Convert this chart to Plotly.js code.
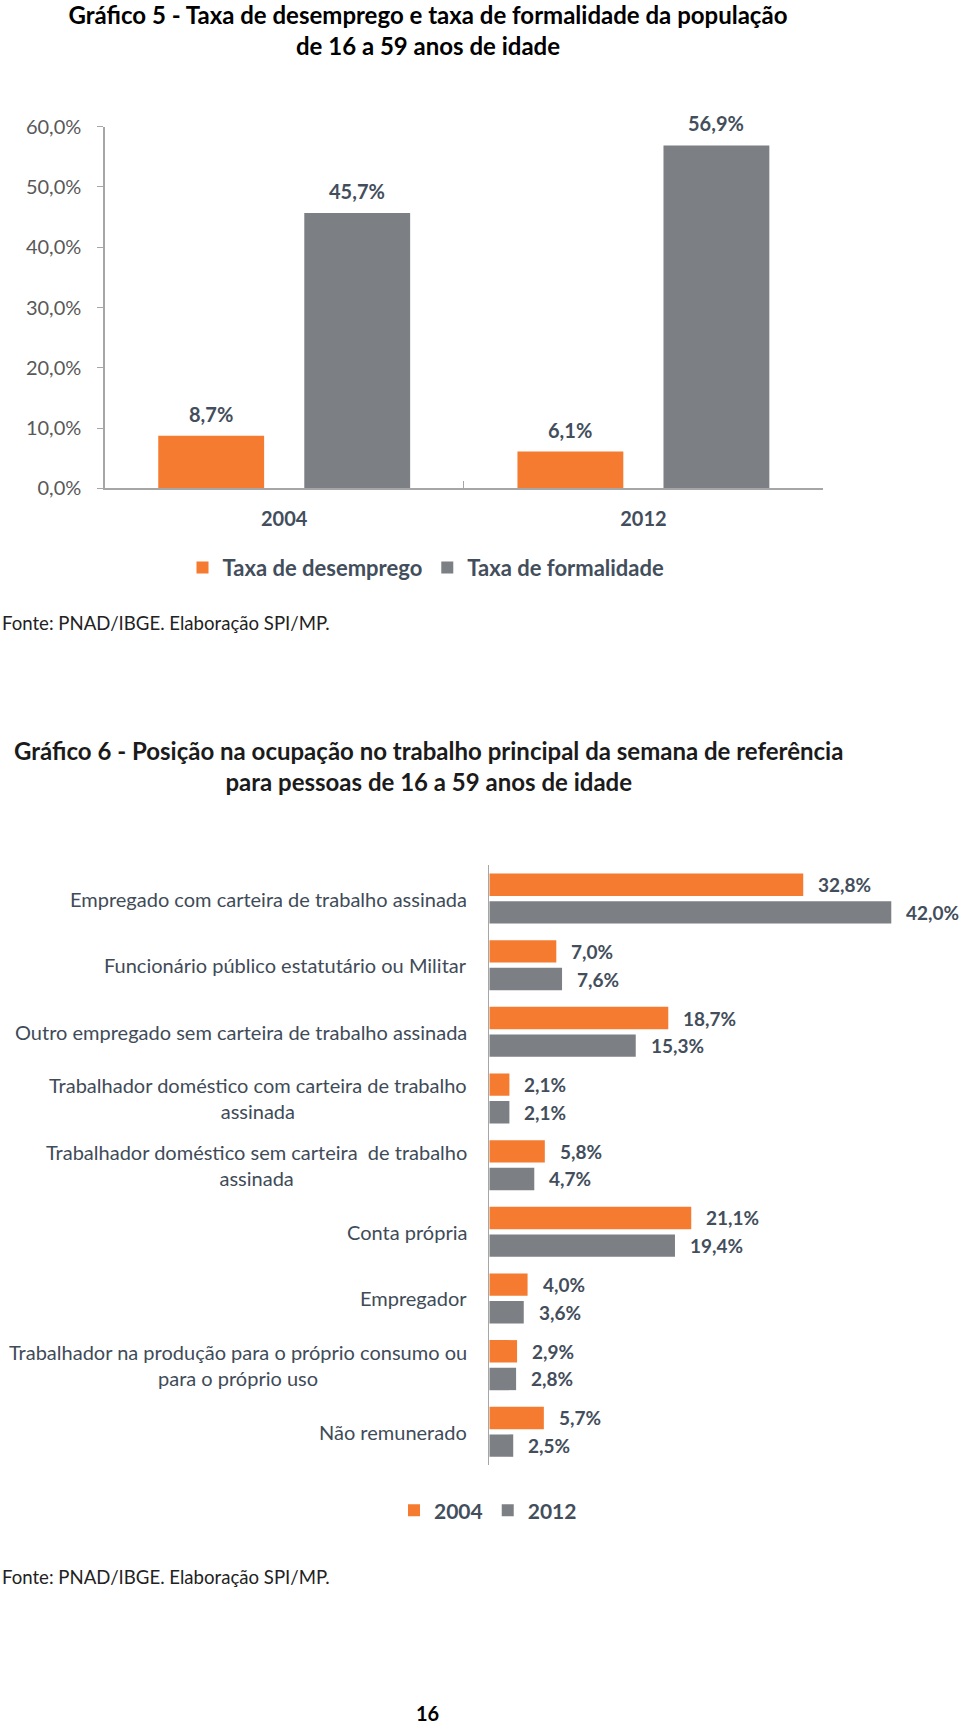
<!DOCTYPE html>
<html><head><meta charset="utf-8">
<script src="https://cdn.plot.ly/plotly-3.0.1.min.js"></script>
<style>
html,body{margin:0;padding:0;background:#fff;width:960px;height:1727px;overflow:hidden}
#g5{position:absolute;left:0;top:0;width:960px;height:650px}
#g6{position:absolute;left:0;top:650px;width:960px;height:1077px}
</style>
</head><body>
<div id="g5"></div><div id="g6"></div>
<script>
// ---------- Data: Gráfico 5 ----------
const years5 = ['2004', '2012'];
const series5 = ['Taxa de desemprego', 'Taxa de formalidade'];
const desemprego = [8.7, 6.1];
const formalidade = [45.7, 56.9];
const yTicks5 = [0, 10, 20, 30, 40, 50, 60];

// ---------- Data: Gráfico 6 ----------
const categories6 = [
  'Empregado com carteira de trabalho assinada',
  'Funcionário público estatutário ou Militar',
  'Outro empregado sem carteira de trabalho assinada',
  'Trabalhador doméstico com carteira de trabalho<br>assinada',
  'Trabalhador doméstico sem carteira  de trabalho<br>assinada',
  'Conta própria',
  'Empregador',
  'Trabalhador na produção para o próprio consumo ou<br>para o próprio uso',
  'Não remunerado'
];
const series6 = ['2004', '2012'];
const v2004 = [32.8, 7.0, 18.7, 2.1, 5.8, 21.1, 4.0, 2.9, 5.7];
const v2012 = [42.0, 7.6, 15.3, 2.1, 4.7, 19.4, 3.6, 2.8, 2.5];

// ---------- Style ----------
const FONT = 'Lato, "Open Sans", "Noto Sans", sans-serif';
const ORANGE = '#F47B2F';
const GRAY = '#7C7F84';
const TXT = '#434E5C';
const AXIS = '#A6A6A6';
const fmt = v => v.toFixed(1).replace('.', ',') + '%';
const cfg = {staticPlot: true, displayModeBar: false};

// ---------- Figure 1 ----------
const H1 = 650;
const py1 = y => 1 - y / H1;
const bargap5 = 0.187, groupgap5 = 0.275;
const off5 = (1 - bargap5) / 4;

const traces5 = [
  {type: 'bar', name: series5[0], x: years5, y: desemprego, marker: {color: ORANGE}},
  {type: 'bar', name: series5[1], x: years5, y: formalidade, marker: {color: GRAY}}
];
const ann5 = [];
[desemprego, formalidade].forEach((arr, s) => {
  arr.forEach((v, i) => {
    ann5.push({xref: 'x', yref: 'y', x: i + (s === 0 ? -off5 : off5), y: v,
      yshift: 22, yanchor: 'middle', xanchor: 'center', showarrow: false,
      text: fmt(v), font: {size: 20, color: TXT, weight: 700}});
  });
});
ann5.push({xref: 'paper', yref: 'paper', x: 0, y: py1(623), xanchor: 'left', yanchor: 'middle',
  showarrow: false, text: 'Fonte: PNAD/IBGE. Elaboração SPI/MP.', font: {size: 18.6, color: '#222'}});

const layout5 = {
  width: 960, height: H1, margin: {l: 0, r: 0, t: 0, b: 0},
  paper_bgcolor: '#fff', plot_bgcolor: '#fff',
  font: {family: FONT, color: TXT},
  separators: ',.',
  barmode: 'group', bargap: bargap5, bargroupgap: groupgap5,
  title: {text: 'Gráfico 5 - Taxa de desemprego e taxa de formalidade da população<br>de 16 a 59 anos de idade',
    x: 428 / 960, xanchor: 'center', y: py1(24), yanchor: 'middle', yref: 'container',
    font: {size: 24, color: '#000', weight: 700}},
  xaxis: {domain: [104.6 / 960, 823 / 960], type: 'category', showline: true, linecolor: AXIS, linewidth: 1.3,
    ticks: 'inside', tickson: 'boundaries', ticklen: 7, tickcolor: AXIS,
    tickfont: {size: 20, color: TXT, weight: 700}, ticklabelstandoff: 12,
    showgrid: false, zeroline: false},
  yaxis: {domain: [py1(488.3), py1(126.7)], range: [0, 60], tickmode: 'array',
    tickvals: yTicks5, ticktext: yTicks5.map(fmt),
    showline: true, linecolor: AXIS, linewidth: 1.3,
    ticks: 'outside', ticklen: 6, tickcolor: AXIS, tickfont: {size: 20, color: '#595959'},
    ticklabelstandoff: 12, showgrid: false, zeroline: false},
  legend: {orientation: 'h', x: 426 / 960, xanchor: 'center', y: py1(567.7), yanchor: 'middle',
    font: {size: 22, color: TXT, weight: 700}},
  showlegend: true,
  annotations: ann5
};
Plotly.newPlot('g5', traces5, layout5, cfg);

// ---------- Figure 2 ----------
const H2 = 1077, TOP2 = 650;
const py2 = y => 1 - (y - TOP2) / H2;
const bargap6 = 0.1705, groupgap6 = 0.19;
const off6 = (1 - bargap6) / 4;

const traces6 = [
  {type: 'bar', orientation: 'h', name: series6[0], y: categories6, x: v2004, marker: {color: ORANGE}},
  {type: 'bar', orientation: 'h', name: series6[1], y: categories6, x: v2012, marker: {color: GRAY}}
];
const ann6 = [];
categories6.forEach((c, i) => {
  ann6.push({xref: 'paper', yref: 'y', x: 469 / 960, y: c, xanchor: 'right', yanchor: 'middle',
    align: 'center', showarrow: false, text: c, font: {size: 20, color: '#404B58'}});
});
[v2004, v2012].forEach((arr, s) => {
  arr.forEach((v, i) => {
    ann6.push({xref: 'x', yref: 'y', x: v, y: i + (s === 0 ? -off6 : off6),
      xshift: 13, xanchor: 'left', yanchor: 'middle', showarrow: false,
      text: fmt(v), font: {size: 19, color: TXT, weight: 700}});
  });
});
ann6.push({xref: 'paper', yref: 'paper', x: 428 / 960, y: py2(766), xanchor: 'center', yanchor: 'middle',
  showarrow: false,
  text: 'Gráfico 6 - Posição na ocupação no trabalho principal da semana de referência<br>para pessoas de 16 a 59 anos de idade',
  font: {size: 24, color: '#1b1b1b', weight: 700}});
ann6.push({xref: 'paper', yref: 'paper', x: 0, y: py2(1577), xanchor: 'left', yanchor: 'middle',
  showarrow: false, text: 'Fonte: PNAD/IBGE. Elaboração SPI/MP.', font: {size: 18.6, color: '#222'}});
ann6.push({xref: 'paper', yref: 'paper', x: 427 / 960, y: py2(1713), xanchor: 'center', yanchor: 'middle',
  showarrow: false, text: '16', font: {size: 20, color: '#000', weight: 700}});

const layout6 = {
  width: 960, height: H2, margin: {l: 0, r: 0, t: 0, b: 0},
  paper_bgcolor: '#fff', plot_bgcolor: '#fff',
  font: {family: FONT, color: TXT},
  separators: ',.',
  barmode: 'group', bargap: bargap6, bargroupgap: groupgap6,
  xaxis: {domain: [489.3 / 960, 1], range: [0, 49.18], visible: false},
  yaxis: {domain: [py2(1465.1), py2(865.2)], type: 'category', autorange: 'reversed',
    showline: true, linecolor: AXIS, linewidth: 1.3, showticklabels: false, ticks: '',
    showgrid: false, zeroline: false},
  legend: {orientation: 'h', x: 488 / 960, xanchor: 'center', y: py2(1510.7), yanchor: 'middle',
    font: {size: 21, color: TXT, weight: 700}},
  showlegend: true,
  annotations: ann6
};
Plotly.newPlot('g6', traces6, layout6, cfg);
</script>
</body></html>
